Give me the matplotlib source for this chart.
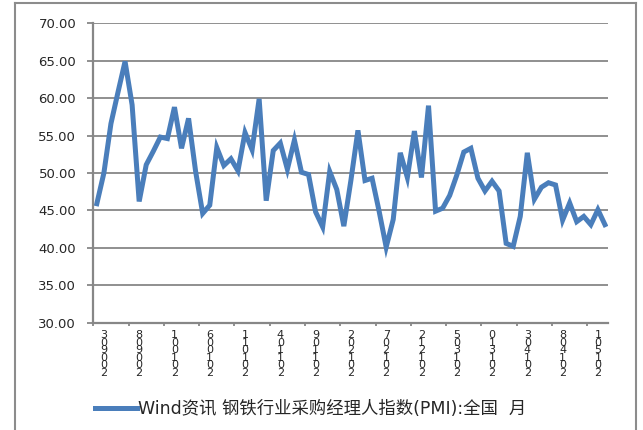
# Steel industry PMI, monthly line chart

# Importing the libraries
import numpy as np
import matplotlib
matplotlib.use('Agg')
import matplotlib.pyplot as plt
from matplotlib.lines import Line2D

plt.rcParams['font.family'] = ['DejaVu Sans', 'Noto Sans CJK SC']

# Monthly index values, 2009-03 to 2015-03
pmi = [45.9, 50.0, 56.6, 60.8, 64.9, 59.1, 46.2, 51.1, 52.9, 54.8,
       54.6, 58.8, 53.3, 57.3, 50.2, 44.6, 45.7, 53.4, 51.0, 51.9,
       50.3, 55.4, 53.1, 59.9, 46.3, 53.0, 54.0, 50.5, 54.4, 50.1,
       49.8, 44.8, 42.8, 50.2, 47.8, 42.9, 49.0, 55.7, 49.0, 49.3,
       44.9, 40.1, 43.8, 52.7, 49.4, 55.6, 49.4, 59.0, 44.9, 45.3,
       47.0, 49.7, 52.8, 53.3, 49.3, 47.6, 48.9, 47.6, 40.6, 40.2,
       44.2, 52.7, 46.5, 48.1, 48.7, 48.4, 43.7, 46.0, 43.5, 44.2,
       43.1, 45.1, 43.1]

# Category labels, one every five months
tick_labels = ['200903', '200908', '201001', '201006', '201011',
               '201104', '201109', '201202', '201207', '201212',
               '201305', '201310', '201403', '201408', '201501']
label_step = 5

series_name = 'Wind资讯 钢铁行业采购经理人指数(PMI):全国  月'

grid_col = '#878787'
text_col = '#262626'
line_col = '#4A7EBB'

fig = plt.figure(figsize=(6.43, 4.30), dpi=100)
ax = fig.add_axes([0.1451, 0.2495, 0.8012, 0.6963])

x = np.arange(len(pmi))
ax.plot(x, pmi, color=line_col, lw=3.6, solid_joinstyle='miter', label=series_name)

ax.set_xlim(-0.5, len(pmi) - 0.5)
ax.set_ylim(30, 70)
ax.set_yticks(np.arange(30, 71, 5))
ax.set_yticklabels(['%.2f' % v for v in np.arange(30, 71, 5)])
ax.yaxis.grid(True, color=grid_col, lw=1.3)
ax.set_axisbelow(True)

for s in ['top', 'right']:
    ax.spines[s].set_visible(False)
for s in ['left', 'bottom']:
    ax.spines[s].set_color(grid_col)
    ax.spines[s].set_linewidth(1.6)

ax.tick_params(axis='y', direction='out', length=4.3, width=1.3, color=grid_col,
               labelsize=9.5, labelcolor=text_col, pad=8)

# tick marks sit between categories, labels stacked under them
ax.set_xticks(np.arange(len(tick_labels)) * label_step - 0.5)
ax.set_xticklabels([])
ax.tick_params(axis='x', direction='out', length=2.2, width=1.3, color=grid_col)

trans = ax.get_xaxis_transform()
for k, lab in enumerate(tick_labels):
    ax.text(k * label_step + 1.0, -0.024, '\n'.join(lab[::-1]), transform=trans,
            ha='center', va='top', fontsize=8, color=text_col, linespacing=0.7)

# legend below the plot
fig.legend(loc='center left', bbox_to_anchor=(95 / 643, 21 / 430), frameon=False,
           borderpad=0, borderaxespad=0, handlelength=2.4, handletextpad=0.1,
           fontsize=12.5, labelcolor=text_col)

# outer chart border (bottom edge falls outside the image)
top = 1 - 3 / 430
border = dict(color='#8c8c8c', lw=1.5)
fig.add_artist(Line2D([15 / 643, 15 / 643], [0, top], **border))
fig.add_artist(Line2D([15 / 643, 636 / 643], [top, top], **border))
fig.add_artist(Line2D([636 / 643, 636 / 643], [0, top], **border))

plt.savefig('out.png', dpi=100)
